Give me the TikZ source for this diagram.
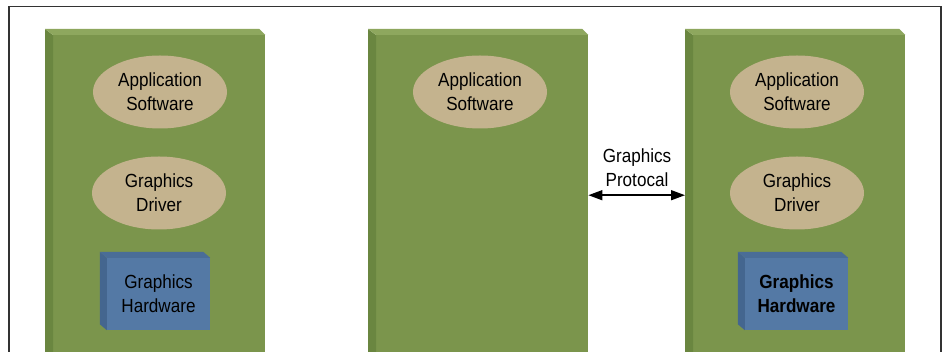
\documentclass[tikz,border=0pt]{standalone}
\usepackage{fontspec}
\setmainfont[FakeStretch=0.9]{Liberation Sans}
\usetikzlibrary{arrows.meta,shapes.geometric,calc}
\definecolor{pfront}{HTML}{7B954C}
\definecolor{pside}{HTML}{6A8640}
\definecolor{ptop}{HTML}{8EA75E}
\definecolor{beige}{HTML}{C4B38E}
\definecolor{bfront}{HTML}{5479A5}
\definecolor{bside}{HTML}{44668F}
\definecolor{btop}{HTML}{4A6D97}
\definecolor{framec}{HTML}{333333}
\tikzset{
  txt/.style={font=\fontsize{19}{24}\selectfont},
  panel/.style={rectangle, inner sep=0pt, minimum width=212pt, minimum height=317pt, fill=pfront},
  oval/.style={txt, ellipse, fill=beige, inner sep=0pt, minimum width=134pt, minimum height=73pt, align=center},
  hw/.style={txt, rectangle, fill=bfront, inner sep=0pt, minimum width=103pt, minimum height=72pt, align=center},
  lbl/.style={txt, align=center},
  conn/.style={line width=1.5pt, {Triangle[length=14pt,width=10pt]}-{Triangle[length=14pt,width=10pt]}},
}
\newcommand{\mypanel}[2]{%
  \node[panel, anchor=north west] (#1) at (#2+8,35) {};
  \fill[pside] (#1.north west) -- ++(-8,-6) -- ($(#1.south west)+(-8,0)$) -- (#1.south west) -- cycle;
  \fill[ptop] (#1.north west) -- ++(-8,-6) -- ($(#1.north east)+(-6,-6)$) -- (#1.north east) -- cycle;
}
\newcommand{\myhw}[1]{%
  \fill[bside] (#1.north west) -- ++(-7,-6) -- ($(#1.south west)+(-7,-6)$) -- (#1.south west) -- cycle;
  \fill[btop] (#1.north west) -- ++(-7,-6) -- ($(#1.north east)+(-7,-6)$) -- (#1.north east) -- cycle;
}
\begin{document}
\begin{tikzpicture}[x=1pt,y=-1pt]
\useasboundingbox (0,0) rectangle (946,352);
\fill[white] (0,0) rectangle (946,352);
\draw[framec, line width=1.5pt] (9,352) -- (9,6.5) -- (941,6.5) -- (941,352);

\mypanel{p1}{45}
\mypanel{p2}{368}
\mypanel{p3}{685}

\node[oval] (a1) at (160,92) {Application\\Software};
\node[oval] (d1) at (159,193) {Graphics\\Driver};
\node[hw] (h1) at (158.5,294) {Graphics\\Hardware};
\myhw{h1}

\node[oval] (a2) at (480,92) {Application\\Software};

\node[oval] (a3) at (797,92) {Application\\Software};
\node[oval] (d3) at (797,193) {Graphics\\Driver};
\node[hw, font=\fontsize{19}{24}\selectfont\bfseries] (h3) at (796.5,294) {Graphics\\Hardware};
\myhw{h3}

\coordinate (l) at ($(p2.north east)!0.5!(p2.south east)+(0,1.5)$);
\coordinate (r) at ($(p3.north west)!0.5!(p3.south west)+(-8,1.5)$);
\draw[conn] (l) -- (r);
\node[lbl] (gp) at (637,168) {Graphics\\Protocal};
\end{tikzpicture}
\end{document}
